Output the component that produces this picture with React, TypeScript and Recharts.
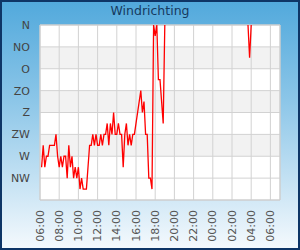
import React from 'react';
import { LineChart, Line, XAxis, YAxis, CartesianGrid, ReferenceArea } from 'recharts';

// compass labels, top to bottom
const dirLabels = ['N', 'NO', 'O', 'ZO', 'Z', 'ZW', 'W', 'NW'];
const dirTicks = [0, 45, 90, 135, 180, 225, 270, 315];
const hourTicks = [0, 120, 240, 360, 480, 600, 720, 840, 960, 1080, 1200, 1320, 1440];

// minutes after 06:00, 10 minute samples
const dayMinutes = Array.from({ length: 78 }, (_, i) => (i + 1) * 10);
const dayDirs = [
  292.5, 247.5, 292.5, 270, 270, 247.5, 247.5, 247.5, 247.5, 225,
  270, 292.5, 270, 292.5, 270, 270, 315, 247.5, 292.5, 270,
  315, 292.5, 315, 292.5, 337.5, 315, 337.5, 337.5, 337.5, 292.5,
  247.5, 247.5, 225, 247.5, 225, 247.5, 247.5, 225, 247.5, 225,
  225, 202.5, 247.5, 202.5, 225, 180, 225, 225, 202.5, 225,
  225, 292.5, 225, 202.5, 247.5, 225, 247.5, 225, 225, 202.5,
  180, 157.5, 135, 180, 157.5, 225, 225, 315, 315, 337.5,
  0, 22.5, 0, 112.5, 112.5, 157.5, 202.5, 0,
];
const nightMinutes = [1300, 1310, 1320];
const nightDirs = [0, 67.5, 0];

const data = [
  ...dayMinutes.map((m, i) => ({ m, dir: dayDirs[i] })),
  { m: 790, dir: null },
  ...nightMinutes.map((m, i) => ({ m, dir: nightDirs[i] })),
];

// alternating bands, last one (NW - bottom) stays white
const bandFill = ['#ffffff', '#f2f2f2', '#ffffff', '#f2f2f2', '#ffffff', '#f2f2f2', '#ffffff', '#ffffff'];

const fmtTime = (m: number) => {
  const h = (6 + Math.round(m / 60)) % 24;
  return (h < 10 ? '0' : '') + h + ':00';
};

const fmtDir = (v: number) => dirLabels[dirTicks.indexOf(v)] ?? '';

const TimeTick = (props: any) => {
  const { x, y, payload } = props;
  return (
    <text
      x={x}
      y={y}
      transform={`rotate(-90 ${x} ${y})`}
      textAnchor="end"
      dominantBaseline="central"
      fill="#555"
      fontSize={11}
      fontFamily="DejaVu Sans"
    >
      {fmtTime(payload.value)}
    </text>
  );
};

export default function App() {
  return (
    <div
      style={{
        position: 'absolute',
        left: 0,
        top: 0,
        width: 300,
        height: 250,
        boxSizing: 'border-box',
        border: '2px solid #0e3566',
        background: 'linear-gradient(to bottom, #52a9dc 0%, #8cc6e8 40%, #f4f9fd 100%)',
        fontFamily: 'DejaVu Sans',
      }}
    >
      <div
        style={{
          position: 'absolute',
          left: -2,
          top: 1,
          width: 300,
          textAlign: 'center',
          fontSize: 12.5,
          color: '#163a60',
        }}
      >
        Windrichting
      </div>
      <div style={{ position: 'absolute', left: -2, top: -2 }}>
        <LineChart width={300} height={250} data={data} margin={{ top: 25, right: 20, left: 0, bottom: 0 }}>
          <CartesianGrid stroke="#d2d2d2" horizontalFill={bandFill} fillOpacity={1} />
          <ReferenceArea x1={0} x2={1500} y1={0} y2={360} fill="none" stroke="#cccccc" />
          <XAxis
            dataKey="m"
            type="number"
            domain={[0, 1500]}
            ticks={hourTicks}
            height={50}
            axisLine={false}
            tickLine={false}
            tickSize={8}
            tickMargin={2}
            tick={<TimeTick />}
            interval={0}
          />
          <YAxis
            type="number"
            domain={[0, 360]}
            reversed
            ticks={dirTicks}
            tickFormatter={fmtDir}
            width={40}
            axisLine={false}
            tickLine={false}
            tickSize={8}
            tickMargin={2}
            tick={{ fill: '#444', fontSize: 11, fontFamily: 'DejaVu Sans' }}
            interval={0}
          />
          <Line
            type="linear"
            dataKey="dir"
            stroke="#ff0000"
            strokeWidth={1.3}
            dot={false}
            isAnimationActive={false}
          />
        </LineChart>
      </div>
    </div>
  );
}
